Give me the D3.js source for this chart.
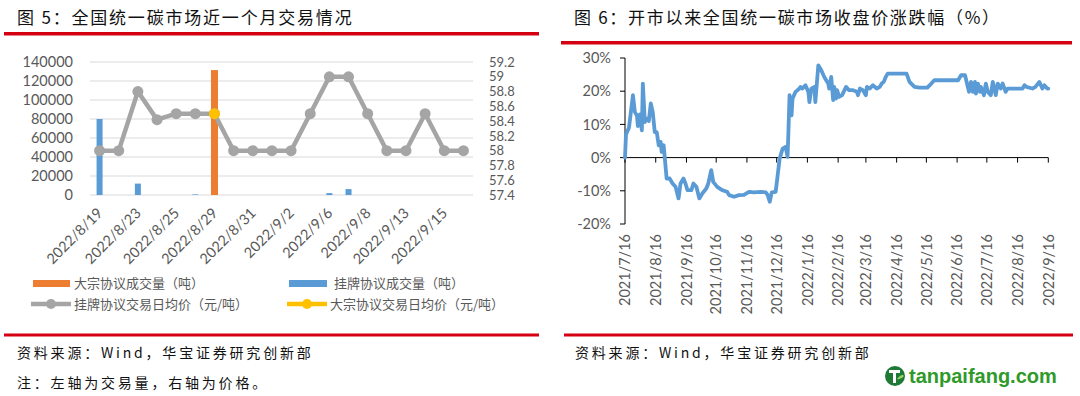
<!DOCTYPE html>
<html><head><meta charset="utf-8">
<script src="https://cdn.jsdelivr.net/npm/d3@7"></script>
<style>
html,body{margin:0;padding:0;background:#fff;}
svg{display:block;}
</style></head><body>
<svg id="c" width="1080" height="396"></svg>
<script>
// ---------- Data: Figure 5 ----------
const dayCats = ["2022/8/19","2022/8/22","2022/8/23","2022/8/24","2022/8/25","2022/8/26","2022/8/29","2022/8/30","2022/8/31","2022/9/1",
                 "2022/9/2","2022/9/5","2022/9/6","2022/9/7","2022/9/8","2022/9/9","2022/9/13","2022/9/14","2022/9/15","2022/9/16"];
const blockVolume  = [0,0,0,0,0,0,131500,0,0,0,0,0,0,0,0,0,0,0,0,0];
const listedVolume = [80000,0,12000,0,0,600,0,0,0,0,0,0,2000,6200,0,0,0,0,0,0];
const listedPrice  = [58,58,58.8,58.42,58.5,58.5,58.5,58,58,58,58,58.5,59,59,58.5,58,58,58.5,58,58];
const blockPrice   = [null,null,null,null,null,null,58.5,null,null,null,null,null,null,null,null,null,null,null,null,null];
const volTicks   = [0,20000,40000,60000,80000,100000,120000,140000];
const priceTicks = [57.4,57.6,57.8,58,58.2,58.4,58.6,58.8,59,59.2];
const legendNames = ["大宗协议成交量（吨）","挂牌协议成交量（吨）","挂牌协议交易日均价（元/吨）","大宗协议交易日均价（元/吨）"];

// ---------- Data: Figure 6 ----------
const retDates = ["2021-07-16","2021-07-17","2021-07-20","2021-07-24","2021-07-26","2021-07-28","2021-07-29","2021-07-31","2021-08-02","2021-08-03",
 "2021-08-05","2021-08-07","2021-08-09","2021-08-11","2021-08-13","2021-08-15","2021-08-17","2021-08-19","2021-08-21","2021-08-22",
 "2021-08-24","2021-08-27","2021-08-30","2021-09-02","2021-09-05","2021-09-08","2021-09-10","2021-09-13","2021-09-15","2021-09-17",
 "2021-09-21","2021-09-23","2021-09-26","2021-09-29","2021-10-02","2021-10-06","2021-10-08","2021-10-11","2021-10-13","2021-10-17",
 "2021-10-22","2021-10-27","2021-10-29","2021-11-03","2021-11-08","2021-11-13","2021-11-18","2021-11-23","2021-11-30","2021-12-05",
 "2021-12-07","2021-12-09","2021-12-11","2021-12-15","2021-12-17","2021-12-19","2021-12-22","2021-12-25","2021-12-27","2021-12-28",
 "2021-12-29","2021-12-31","2022-01-01","2022-01-04","2022-01-08","2022-01-09","2022-01-11","2022-01-14","2022-01-17","2022-01-18",
 "2022-01-20","2022-01-23","2022-01-24","2022-01-27","2022-01-30","2022-02-02","2022-02-06","2022-02-07","2022-02-09","2022-02-11",
 "2022-02-12","2022-02-14","2022-02-15","2022-02-17","2022-02-20","2022-02-24","2022-02-27","2022-03-03","2022-03-07","2022-03-08",
 "2022-03-10","2022-03-13","2022-03-16","2022-03-17","2022-03-20","2022-03-23","2022-03-27","2022-03-30","2022-04-01","2022-04-03",
 "2022-04-05","2022-04-07","2022-04-26","2022-04-29","2022-05-04","2022-05-09","2022-05-17","2022-05-21","2022-05-24","2022-06-17",
 "2022-06-20","2022-06-24","2022-06-26","2022-06-28","2022-06-30","2022-07-02","2022-07-04","2022-07-05","2022-07-07","2022-07-09",
 "2022-07-10","2022-07-13","2022-07-15","2022-07-17","2022-07-20","2022-07-22","2022-07-25","2022-07-27","2022-07-30","2022-08-01",
 "2022-08-04","2022-08-06","2022-08-21","2022-08-23","2022-08-25","2022-08-31","2022-09-03","2022-09-07","2022-09-10","2022-09-12",
 "2022-09-15","2022-09-16"];
const retValues = [0,7,9,18.8,13.7,12.7,9.5,13,8.2,22.3,
 10.7,11.7,11,16.3,13.7,7.7,7.7,3.7,4.7,1.7,
 3.7,-6.3,-6.3,-7.8,-8.8,-12.3,-7.8,-6.3,-7.8,-9.8,
 -9.8,-7.8,-8.8,-12.3,-10.8,-9.3,-7.8,-3.8,-7.3,-8.8,
 -9.8,-10.3,-11.3,-11.8,-11.3,-11.2,-10.3,-10.5,-10.3,-10.5,
 -11.3,-13.3,-10.5,-10.3,-5.3,-0.3,2.7,3.2,0.2,9.2,
 18.8,12.7,17.8,19.8,20.8,21.3,20.8,21.8,19.8,16.7,
 20.8,21.3,16.7,27.8,26.3,24.3,22.3,20.8,24.3,17.3,
 21.3,17.8,20.3,18.3,18.8,21.3,20.3,20.3,19.8,18.8,
 20.8,20.3,18.8,21.3,20.8,21.8,20.8,21.3,22.3,22.8,
 24.3,25.3,25.3,22.8,21.3,21.1,21.1,22.3,23.3,23.3,
 24.8,24.8,22.3,19.8,22.8,19.8,22.8,19.3,22.3,19.8,
 21.3,18.8,22.3,19.8,18.8,22.8,18.8,22.3,20.8,22.3,
 19.8,20.8,20.8,21.8,21.3,20.8,21.3,22.8,20.8,21.8,
 20.8,20.8];
const retTicks = [-20,-10,0,10,20,30];
const monthTicks = ["2021-07-16","2021-08-16","2021-09-16","2021-10-16","2021-11-16","2021-12-16","2022-01-16","2022-02-16",
 "2022-03-16","2022-04-16","2022-05-16","2022-06-16","2022-07-16","2022-08-16","2022-09-16"];

// ---------- Drawing ----------
const svg = d3.select("#c");
const CJK = "'Noto Sans CJK SC', sans-serif";
const NUM = "Lato, 'Noto Sans', sans-serif";
const AX = "#595959";
const RED = "#D40012";

function txt(x,y,s,opts){
  const t = svg.append("text").attr("x",x).attr("y",y).text(s)
    .style("font-family",opts.f||CJK).style("font-size",(opts.s||14)+"px")
    .attr("fill",opts.c||"#000");
  if(opts.ls) t.style("letter-spacing",opts.ls+"px");
  if(opts.a) t.attr("text-anchor",opts.a);
  if(opts.w) t.style("font-weight",opts.w);
  return t;
}

// titles & rules
txt(17,24,"图 5：全国统一碳市场近一个月交易情况",{s:17,ls:1.8,c:"#111"});
txt(574,24,"图 6：开市以来全国统一碳市场收盘价涨跌幅（%）",{s:17,ls:1.7,c:"#111"});
svg.append("rect").attr("x",4).attr("y",32).attr("width",535).attr("height",3.5).attr("fill",RED);
svg.append("rect").attr("x",561).attr("y",41).attr("width",511).attr("height",3.5).attr("fill",RED);
svg.append("rect").attr("x",4).attr("y",333.5).attr("width",535).attr("height",3).attr("fill",RED);
svg.append("rect").attr("x",564).attr("y",333.5).attr("width",509).attr("height",3).attr("fill",RED);

// footers
txt(17,358,"资料来源：Wind，华宝证券研究创新部",{s:14,ls:2.8,c:"#111"});
txt(17,388,"注：左轴为交易量，右轴为价格。",{s:14,ls:2.8,c:"#111"});
txt(575,358,"资料来源：Wind，华宝证券研究创新部",{s:14,ls:2.8,c:"#111"});

// logo
svg.append("circle").attr("cx",895).attr("cy",376).attr("r",10).attr("fill","#1f7a35");
svg.append("path").attr("d","M889,370 h11 v3 h-4 v10 h-3 v-10 h-4 z").attr("fill","#fff");
svg.append("path").attr("d","M897,379 q5,-6 7,-3 q-3,4 -7,3 z").attr("fill","#9fd46a");
txt(909,383,"tanpaifang.com",{f:"'Liberation Sans', Arial, sans-serif",s:20,w:"bold",c:"#2f9a2a"});

// ===== Figure 5 =====
const x5 = d3.scaleBand().domain(dayCats).range([90,473]);
const yL = d3.scaleLinear().domain([0,140000]).range([195,62]);
const yR = d3.scaleLinear().domain([57.4,59.2]).range([195,62]);
const cx = c => x5(c) + x5.bandwidth()/2;

const g5 = svg.append("g");
g5.selectAll("line.grid").data(volTicks).join("line")
  .attr("x1",90).attr("x2",473).attr("y1",d=>yL(d)).attr("y2",d=>yL(d))
  .attr("stroke","#D9D9D9").attr("stroke-width",1.2);
g5.selectAll("text.yl").data(volTicks).join("text")
  .attr("x",73).attr("y",d=>yL(d)).attr("dy","0.36em").attr("text-anchor","end")
  .style("font-family",NUM).style("font-size","14.5px").attr("fill",AX).text(d=>d);
g5.selectAll("text.yr").data(priceTicks).join("text")
  .attr("x",489).attr("y",d=>yR(d)).attr("dy","0.36em").attr("text-anchor","start")
  .style("font-family",NUM).style("font-size","13px").attr("fill",AX).text(d=>d3.format("")(+d.toFixed(1)));

const bw = 6;
g5.selectAll("rect.lv").data(dayCats.map((c,i)=>({c,v:listedVolume[i]})).filter(d=>d.v>0)).join("rect")
  .attr("x",d=>cx(d.c)-bw/2).attr("width",bw).attr("y",d=>yL(d.v)).attr("height",d=>yL(0)-yL(d.v))
  .attr("fill","#5B9BD5");
g5.selectAll("rect.bv").data(dayCats.map((c,i)=>({c,v:blockVolume[i]})).filter(d=>d.v>0)).join("rect")
  .attr("x",d=>cx(d.c)-bw/2-0.5).attr("width",bw+1).attr("y",d=>yL(d.v)).attr("height",d=>yL(0)-yL(d.v))
  .attr("fill","#ED7D31");

const lp = dayCats.map((c,i)=>({c,v:listedPrice[i]}));
g5.append("path").datum(lp)
  .attr("d",d3.line().x(d=>cx(d.c)).y(d=>yR(d.v)))
  .attr("fill","none").attr("stroke","#A5A5A5").attr("stroke-width",4.5).attr("stroke-linejoin","round");
g5.selectAll("circle.lp").data(lp).join("circle")
  .attr("cx",d=>cx(d.c)).attr("cy",d=>yR(d.v)).attr("r",5.5).attr("fill","#A5A5A5");
const bp = dayCats.map((c,i)=>({c,v:blockPrice[i]})).filter(d=>d.v!=null);
g5.selectAll("circle.bp").data(bp).join("circle")
  .attr("cx",d=>cx(d.c)).attr("cy",d=>yR(d.v)).attr("r",5.5).attr("fill","#FFC000");

g5.selectAll("text.xl").data(dayCats.filter((c,i)=>i%2===0)).join("text")
  .attr("transform",d=>`translate(${cx(d)+4},${214}) rotate(-45)`)
  .attr("text-anchor","end")
  .style("font-family",NUM).style("font-size","14.5px").attr("fill",AX).text(d=>d);

// legend
const lg = svg.append("g");
lg.append("rect").attr("x",33).attr("y",280).attr("width",37).attr("height",7).attr("fill","#ED7D31");
lg.append("rect").attr("x",289).attr("y",280).attr("width",38).attr("height",7).attr("fill","#5B9BD5");
lg.append("line").attr("x1",31).attr("x2",71).attr("y1",304).attr("y2",304).attr("stroke","#A5A5A5").attr("stroke-width",4.5);
lg.append("circle").attr("cx",51).attr("cy",304).attr("r",5).attr("fill","#A5A5A5");
lg.append("line").attr("x1",287).attr("x2",327).attr("y1",304).attr("y2",304).attr("stroke","#FFC000").attr("stroke-width",4.5);
lg.append("circle").attr("cx",307).attr("cy",304).attr("r",5).attr("fill","#FFC000");
[[74,283,0],[334,283,1],[74,304,2],[330,304,3]].forEach(([x,y,i])=>{
  txt(x,y,legendNames[i],{s:13,c:AX}).attr("dy","0.35em");
});

// ===== Figure 6 =====
const parse = d3.timeParse("%Y-%m-%d");
const fmt = d3.timeFormat("%Y/%-m/%-d");
const xT = d3.scaleTime().domain([parse("2021-07-16"),parse("2022-09-16")]).range([625,1048.3]);
const yP = d3.scaleLinear().domain([-20,30]).range([224,58]);
const g6 = svg.append("g");

g6.append("line").attr("x1",625).attr("x2",625).attr("y1",yP(30)).attr("y2",yP(-20)).attr("stroke","#000").attr("stroke-width",1);
g6.selectAll("line.yt").data(retTicks).join("line")
  .attr("x1",620).attr("x2",625).attr("y1",d=>yP(d)).attr("y2",d=>yP(d)).attr("stroke","#000");
g6.selectAll("text.yt").data(retTicks).join("text")
  .attr("x",611).attr("y",d=>yP(d)).attr("dy","0.36em").attr("text-anchor","end")
  .style("font-family",NUM).style("font-size","14.5px").attr("fill",AX).text(d=>d+"%");

const y0 = yP(0);
g6.append("line").attr("x1",625).attr("x2",xT(parse("2022-09-16"))).attr("y1",y0).attr("y2",y0).attr("stroke","#000");
g6.selectAll("line.xt").data(monthTicks).join("line")
  .attr("x1",d=>xT(parse(d))).attr("x2",d=>xT(parse(d))).attr("y1",y0).attr("y2",y0+5).attr("stroke","#000");
g6.selectAll("text.xt").data(monthTicks).join("text")
  .attr("transform",d=>`translate(${xT(parse(d))},234) rotate(-90)`)
  .attr("dy","0.36em").attr("text-anchor","end")
  .style("font-family",NUM).style("font-size","14.5px").attr("fill",AX).text(d=>fmt(parse(d)));

const rp = retDates.map((d,i)=>({d:parse(d),v:retValues[i]}));
g6.append("path").datum(rp)
  .attr("d",d3.line().x(d=>xT(d.d)).y(d=>yP(d.v)))
  .attr("fill","none").attr("stroke","#5B9BD5").attr("stroke-width",3.8)
  .attr("stroke-linejoin","round").attr("stroke-linecap","round");
</script></body></html>
